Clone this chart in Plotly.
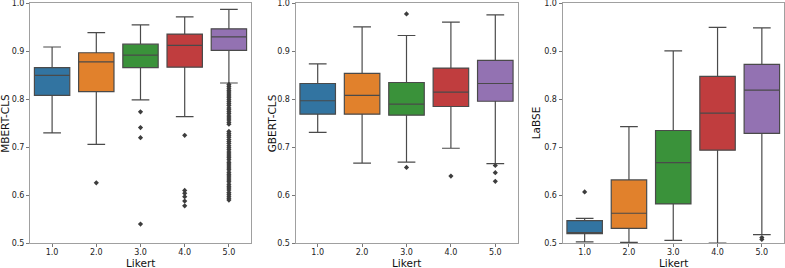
import plotly.graph_objects as go

categories = ["1.0", "2.0", "3.0", "4.0", "5.0"]
colors = ["#3274a1", "#e1812c", "#3a923a", "#c03d3e", "#9372b2"]
y_tick_vals = [0.5, 0.6, 0.7, 0.8, 0.9, 1.0]
y_tick_text = ["0.5", "0.6", "0.7", "0.8", "0.9", "1.0"]
panel_titles = ["MBERT-CLS", "GBERT-CLS", "LaBSE"]
x_title = "Likert"

# MBERT-CLS
mbert_q1 = [0.808, 0.816, 0.866, 0.867, 0.902]
mbert_med = [0.850, 0.878, 0.892, 0.9125, 0.930]
mbert_q3 = [0.866, 0.897, 0.915, 0.936, 0.947]
mbert_lo = [0.730, 0.706, 0.799, 0.764, 0.834]
mbert_hi = [0.909, 0.939, 0.955, 0.972, 0.9875]
mbert_out = {
    "2.0": [0.626],
    "3.0": [0.774, 0.741, 0.720, 0.540],
    "4.0": [0.725, 0.610, 0.604, 0.597, 0.588, 0.578],
    "5.0": [0.831, 0.827, 0.823, 0.819, 0.815, 0.811, 0.807, 0.803, 0.799, 0.795,
            0.791, 0.787, 0.782, 0.778, 0.774, 0.770, 0.765, 0.761, 0.757, 0.752,
            0.748, 0.733, 0.729, 0.725, 0.721, 0.716, 0.712, 0.708, 0.703, 0.699,
            0.695, 0.690, 0.686, 0.682, 0.678, 0.674, 0.669, 0.665, 0.661, 0.657,
            0.653, 0.648, 0.644, 0.640, 0.636, 0.632, 0.628, 0.623, 0.619, 0.615,
            0.611, 0.606, 0.602, 0.598, 0.594, 0.590],
}

# GBERT-CLS
gbert_q1 = [0.769, 0.769, 0.767, 0.785, 0.796]
gbert_med = [0.797, 0.808, 0.790, 0.815, 0.833]
gbert_q3 = [0.833, 0.854, 0.835, 0.865, 0.881]
gbert_lo = [0.731, 0.667, 0.669, 0.698, 0.666]
gbert_hi = [0.874, 0.951, 0.933, 0.961, 0.976]
gbert_out = {
    "3.0": [0.978, 0.658],
    "4.0": [0.640],
    "5.0": [0.662, 0.647, 0.629],
}

# LaBSE
labse_q1 = [0.520, 0.531, 0.582, 0.694, 0.729]
labse_med = [0.522, 0.5625, 0.668, 0.771, 0.819]
labse_q3 = [0.547, 0.632, 0.735, 0.848, 0.873]
labse_lo = [0.503, 0.502, 0.506, 0.5005, 0.518]
labse_hi = [0.552, 0.743, 0.901, 0.950, 0.949]
labse_out = {
    "1.0": [0.607],
    "5.0": [0.512, 0.508],
}

panels = [
    (mbert_q1, mbert_med, mbert_q3, mbert_lo, mbert_hi, mbert_out),
    (gbert_q1, gbert_med, gbert_q3, gbert_lo, gbert_hi, gbert_out),
    (labse_q1, labse_med, labse_q3, labse_lo, labse_hi, labse_out),
]

W, H = 785, 268
x_px = [(30, 251), (295.5, 517.5), (562.5, 784)]
y_px = (3.3, 243.3)
ytitle_x = [5.5, 272, 536]
line_col = "#4a4a4a"
spine_col = "#a0a0a0"
font = "DejaVu Sans"

fig = go.Figure()
layout = {}
annotations = []
for p, (q1, med, q3, lo, hi, outs) in enumerate(panels):
    xa = "x" if p == 0 else f"x{p+1}"
    ya = "y" if p == 0 else f"y{p+1}"
    for i, cat in enumerate(categories):
        fig.add_trace(go.Box(
            x=[cat], q1=[q1[i]], median=[med[i]], q3=[q3[i]],
            lowerfence=[lo[i]], upperfence=[hi[i]],
            fillcolor=colors[i], line=dict(color=line_col, width=1.2),
            width=0.8, whiskerwidth=0.5, boxpoints=False,
            xaxis=xa, yaxis=ya, showlegend=False, hoverinfo="skip",
        ))
    for cat, vals in outs.items():
        fig.add_trace(go.Scatter(
            x=[cat] * len(vals), y=vals, mode="markers",
            marker=dict(symbol="diamond", size=4, color="#3d3d3d"),
            xaxis=xa, yaxis=ya, showlegend=False, hoverinfo="skip",
        ))
    xk = "xaxis" if p == 0 else f"xaxis{p+1}"
    yk = "yaxis" if p == 0 else f"yaxis{p+1}"
    layout[xk] = dict(
        domain=[x_px[p][0] / W, x_px[p][1] / W], anchor=ya,
        type="category", categoryorder="array", categoryarray=categories,
        range=[-0.5, 4.5], showline=True, mirror=True, linecolor=spine_col,
        linewidth=1, showgrid=False, zeroline=False, automargin=False,
        ticks="outside", ticklen=3, tickcolor="#555", tickwidth=0.8,
        ticklabelstandoff=-2, ticklabeloverflow="allow",
        tickfont=dict(family=font, size=8, color="#222"),
    )
    layout[yk] = dict(
        domain=[1 - y_px[1] / H, 1 - y_px[0] / H], anchor=xa,
        range=[0.4999, 1.0001], tickvals=y_tick_vals, ticktext=y_tick_text,
        showline=True, mirror=True, linecolor=spine_col, linewidth=1,
        showgrid=False, zeroline=False, ticklabeloverflow="allow", automargin=False,
        ticks="outside", ticklen=3, tickcolor="#555", tickwidth=0.8,
        tickfont=dict(family=font, size=8, color="#222"),
    )
    annotations.append(dict(
        text=x_title, xref="paper", yref="paper",
        x=(x_px[p][0] + x_px[p][1]) / 2 / W, y=0, yshift=-3,
        xanchor="center", yanchor="bottom", showarrow=False,
        font=dict(family=font, size=10.5, color="#111"),
    ))
    annotations.append(dict(
        text=panel_titles[p], xref="paper", yref="paper",
        x=ytitle_x[p] / W, y=1 - (y_px[0] + y_px[1]) / 2 / H,
        xanchor="center", yanchor="middle", showarrow=False, textangle=-90,
        font=dict(family=font, size=10.5, color="#111"),
    ))

fig.update_layout(
    width=W, height=H, margin=dict(l=0, r=0, t=0, b=0, autoexpand=False),
    plot_bgcolor="white", paper_bgcolor="white", boxmode="overlay",
    hovermode=False, annotations=annotations,
    **layout,
)
fig.write_html(
    "out.html",
    config={"displayModeBar": False, "staticPlot": True},
    post_script="document.body.style.margin='0';document.body.style.overflow='hidden';",
)
